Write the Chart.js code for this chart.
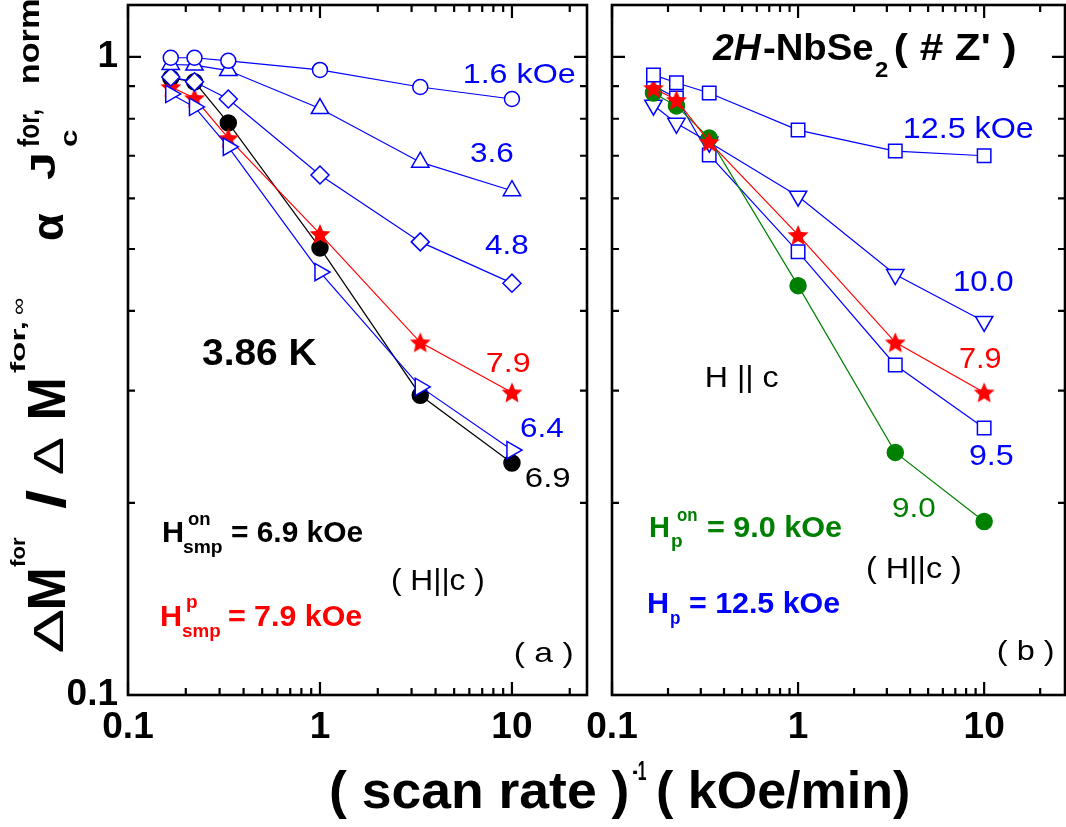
<!DOCTYPE html>
<html><head><meta charset="utf-8">
<script src="https://cdn.jsdelivr.net/npm/chart.js@4/dist/chart.umd.min.js"></script>
<style>
html,body{margin:0;padding:0;background:#fff;}
#wrap{position:relative;width:1066px;height:827px;overflow:hidden;background:#fff;}
#wrap canvas{position:absolute;left:0;top:0;}
</style></head><body>
<div id="wrap"><canvas id="cA" width="1066" height="827"></canvas><canvas id="cB" width="1066" height="827"></canvas></div>
<script>
// ---------- data ----------
const scanRates = [0.167, 0.222, 0.333, 1, 3.33, 10];   // (scan rate)^-1, kOe/min

// panel (a): 3.86 K
const a16 = [0.997, 0.997, 0.986, 0.954, 0.897, 0.859];   // 1.6 kOe
const a36 = [0.973, 0.971, 0.952, 0.830, 0.684, 0.617];   // 3.6
const a48 = [0.930, 0.914, 0.859, 0.653, 0.513, 0.442];   // 4.8
const a64 = [0.875, 0.835, 0.723, 0.460, 0.304, 0.242];   // 6.4
const a79 = [0.897, 0.862, 0.746, 0.528, 0.357, 0.298];   // 7.9
const a69 = [0.927, 0.914, 0.788, 0.502, 0.295, 0.231];   // 6.9

// panel (b): 2H-NbSe2 (#Z')
const b125 = [0.937, 0.911, 0.878, 0.768, 0.712, 0.700];  // 12.5 kOe
const b79  = [0.894, 0.856, 0.736, 0.526, 0.357, 0.298];  // 7.9
const b90  = [0.878, 0.838, 0.746, 0.438, 0.240, 0.187];  // 9.0
const b100 = [0.840, 0.787, 0.735, 0.605, 0.456, 0.385];  // 10.0
const b95  = [0.901, 0.862, 0.702, 0.495, 0.329, 0.262];  // 9.5

const xTickValues = [0.1,0.2,0.3,0.4,0.5,0.6,0.7,0.8,0.9,1,2,3,4,5,6,7,8,9,10,20];
const yTickValues = [0.1,0.2,0.3,0.4,0.5,0.6,0.7,0.8,0.9,1];
const majorTickValues = [0.1, 1, 10];
const majorTickLabels = ['0.1', '1', '10'];

// ---------- helpers ----------
const F = "'Liberation Sans', Arial, Helvetica, sans-serif";
const BLUE = '#0000ff', RED = '#ff0000', GREEN = '#008000', BLACK = '#000000', WHITE = '#ffffff';

function majorIndex(v){
  for (let i = 0; i < majorTickValues.length; i++)
    if (Math.abs(Math.log10(v) - Math.log10(majorTickValues[i])) < 1e-6) return i;
  return -1;
}
function labelFor(v){ const i = majorIndex(v); return i >= 0 ? majorTickLabels[i] : ''; }

function makeStar(color, R){
  const c = document.createElement('canvas');
  const s = Math.ceil(2 * R + 2);
  c.width = s; c.height = s;
  const g = c.getContext('2d');
  g.fillStyle = color;
  g.beginPath();
  for (let i = 0; i < 10; i++){
    const r = (i % 2) ? R * 0.46 : R;
    const a = -Math.PI / 2 + i * Math.PI / 5;
    g.lineTo(s / 2 + r * Math.cos(a), s / 2 + 1 + r * Math.sin(a));
  }
  g.closePath(); g.fill();
  return c;
}
const starImg = makeStar(RED, 11);

function series(label, ys, color, style, radius, fill, rotation){
  return {
    label,
    data: scanRates.map((x, i) => ({x, y: ys[i]})),
    borderColor: color, backgroundColor: fill, borderWidth: 1.2,
    pointStyle: style, pointRadius: radius, pointBorderColor: color,
    pointBackgroundColor: fill, pointBorderWidth: 1.5,
    pointRotation: rotation || 0, tension: 0, fill: false
  };
}

function fitText(ctx, s, x0, x1, base, font, color, sy){
  ctx.save();
  ctx.font = font; ctx.fillStyle = color;
  ctx.textAlign = 'left'; ctx.textBaseline = 'alphabetic';
  const m = ctx.measureText(s);
  const inkL = m.actualBoundingBoxLeft;
  const inkW = m.actualBoundingBoxLeft + m.actualBoundingBoxRight;
  const sx = (x1 - x0) / inkW;
  ctx.translate(x0, base);
  ctx.scale(sx, sy || 1);
  ctx.fillText(s, inkL, 0);
  ctx.restore();
}

const frameTicks = {
  id: 'frameTicks',
  afterDatasetsDraw(chart){
    const {ctx, chartArea: {left, right, top, bottom}, scales: {x, y}} = chart;
    ctx.save();
    ctx.strokeStyle = BLACK; ctx.lineWidth = 2.2; ctx.lineCap = 'butt';
    ctx.beginPath();
    x.ticks.forEach(t => {
      const px = x.getPixelForValue(t.value);
      const L = majorIndex(t.value) >= 0 ? 13 : 7;
      ctx.moveTo(px, bottom); ctx.lineTo(px, bottom - L);
      ctx.moveTo(px, top); ctx.lineTo(px, top + L);
    });
    y.ticks.forEach(t => {
      const py = y.getPixelForValue(t.value);
      const L = majorIndex(t.value) >= 0 ? 13 : 7;
      ctx.moveTo(left, py); ctx.lineTo(left + L, py);
      ctx.moveTo(right, py); ctx.lineTo(right - L, py);
    });
    ctx.stroke();
    ctx.lineWidth = 2.6;
    ctx.strokeRect(left, top, right - left, bottom - top);
    ctx.restore();
  }
};

function textPlugin(id, items){
  return { id, afterDraw(chart){ const ctx = chart.ctx; items.forEach(it => fitText(ctx, ...it)); } };
}

const R = (s) => s + 'px ' + F;
const B = (s) => 'bold ' + s + 'px ' + F;
const BI = (s) => 'italic bold ' + s + 'px ' + F;

const textsA = [
  ['1.6 kOe', 465, 575, 83, R(28), BLUE],
  ['3.6', 471, 513, 162, R(28), BLUE],
  ['4.8', 485, 528, 254, R(28), BLUE],
  ['7.9', 487, 530, 372, R(28), RED],
  ['6.4', 521, 563, 437, R(28), BLUE],
  ['6.9', 526, 570, 487, R(28), BLACK],
  ['3.86 K', 202, 317, 365, B(37), BLACK],
  ['H', 163, 182, 542, B(29), BLACK],
  ['on', 188, 210, 525, B(19), BLACK],
  ['smp', 183, 222, 553, B(19), BLACK],
  ['= 6.9 kOe', 232, 363, 542, B(29), BLACK],
  ['H', 161, 180, 626, B(29), RED],
  ['p', 187, 197, 608, B(19), RED],
  ['smp', 182, 220, 637, B(19), RED],
  ['= 7.9 kOe', 229, 362, 626, B(29), RED],
  ['( H||c )', 392, 483, 590, R(29), BLACK],
  ['( a )', 515, 572, 662, R(28), BLACK]
];
const textsB = [
  ['2H', 712, 762, 60, BI(37), BLACK],
  ['-NbSe', 764, 873, 60, B(37), BLACK],
  ['2', 875, 888, 77, B(22), BLACK],
  ["( # Z' )", 895, 1015, 60, B(37), BLACK],
  ['12.5 kOe', 905, 1033, 138, R(30), BLUE],
  ['10.0', 955, 1013, 291, R(30), BLUE],
  ['7.9', 960, 1001, 368, R(30), RED],
  ['9.5', 970, 1013, 465, R(30), BLUE],
  ['H || c', 707, 778, 387, R(29), BLACK],
  ['9.0', 893, 935, 517, R(28), GREEN],
  ['H', 650, 668, 537, B(29), GREEN],
  ['on', 677, 697, 521, B(19), GREEN],
  ['p', 672, 682, 547, B(19), GREEN],
  ['= 9.0 kOe', 708, 842, 537, B(29), GREEN],
  ['( H||c )', 867, 960, 578, R(29), BLACK],
  ['H', 648, 667, 613, B(29), BLUE],
  ['p', 671, 680, 624, B(19), BLUE],
  ['= 12.5 kOe', 690, 840, 613, B(29), BLUE],
  ['( b )', 998, 1053, 660, R(28), BLACK]
];

// axis titles (drawn on panel a canvas, page coordinates)
const axisTitles = {
  id: 'axisTitles',
  afterDraw(chart){
    const ctx = chart.ctx;
    fitText(ctx, '( scan rate )', 331, 627, 808, B(52), BLACK);
    fitText(ctx, '-1', 633, 646, 780, B(28), BLACK);
    fitText(ctx, '( kOe/min)', 658, 908, 808, B(52), BLACK);
    ctx.save();
    ctx.translate(0, 652);
    ctx.rotate(-Math.PI / 2);
    const parts = [
      ['\u0394', 0, 42, 63, R(43), 1],
      ['M', 45, 82, 65, B(45), 1.18],
      ['for', 85, 115, 25, B(20), 1],
      ['/', 143, 163, 65, B(45), 1.18],
      ['\u0394', 178, 214, 63, R(43), 1],
      ['M', 235, 272, 65, B(45), 1.18],
      ['for,', 279, 330, 25, B(20), 1],
      ['\u221E', 337, 354, 25, R(20), 1],
      ['\u03B1', 412, 439, 63, B(45), 1],
      ['J', 472, 497, 55, B(34), 1.05],
      ['c', 505, 522, 77, B(24), 1],
      ['for,', 505, 542, 39, B(26), 1.1],
      ['norm', 569, 652, 39, B(26), 1.1]
    ];
    parts.forEach(p => fitText(ctx, p[0], p[1], p[2], p[3], p[4], BLACK, p[5]));
    ctx.restore();
  }
};

function zeroPad(s){ s.paddingTop = 0; s.paddingBottom = 0; s.paddingLeft = 0; s.paddingRight = 0; }

function makePanel(canvasId, datasets, xMax, pad, yWidth, showYLabels, extraPlugins){
  return new Chart(document.getElementById(canvasId), {
    type: 'line',
    data: { datasets },
    options: {
      responsive: false, animation: false, events: [],
      layout: { padding: pad, autoPadding: false },
      plugins: { legend: {display: false}, tooltip: {enabled: false}, title: {display: false} },
      scales: {
        x: {
          type: 'logarithmic', min: 0.1, max: xMax, bounds: 'data',
          grid: {display: false, drawTicks: false}, border: {display: false},
          afterBuildTicks: s => { s.ticks = xTickValues.map(v => ({value: v})); },
          afterFit: s => { s.height = 132; zeroPad(s); },
          ticks: { autoSkip: false, maxRotation: 0, minRotation: 0, padding: 11, color: BLACK,
                   font: {family: F, size: 37, weight: 'bold'}, callback: v => labelFor(v) }
        },
        y: {
          type: 'logarithmic', min: 0.1, max: 1.206, bounds: 'data',
          grid: {display: false, drawTicks: false}, border: {display: false},
          afterBuildTicks: s => { s.ticks = yTickValues.map(v => ({value: v})); },
          afterFit: s => { s.width = yWidth; zeroPad(s); },
          ticks: { display: showYLabels, autoSkip: false, padding: 10, color: BLACK,
                   font: {family: F, size: 37, weight: 'bold'}, callback: v => labelFor(v) }
        }
      }
    },
    plugins: [frameTicks].concat(extraPlugins)
  });
}

// dataset index 0 is drawn on top
const dsA = [
  series('1.6 kOe', a16, BLUE, 'circle', 7.5, WHITE),
  series('3.6 kOe', a36, BLUE, 'triangle', 10, WHITE),
  series('4.8 kOe', a48, BLUE, 'rectRot', 9, WHITE),
  series('6.4 kOe', a64, BLUE, 'triangle', 10, WHITE, 90),
  series('7.9 kOe', a79, RED, starImg, 10, RED),
  series('6.9 kOe', a69, BLACK, 'circle', 8, BLACK)
];
const dsB = [
  series('12.5 kOe', b125, BLUE, 'rect', 9.5, WHITE),
  series('7.9 kOe', b79, RED, starImg, 10, RED),
  series('9.0 kOe', b90, GREEN, 'circle', 8, GREEN),
  series('10.0 kOe', b100, BLUE, 'triangle', 10, WHITE, 180),
  series('9.5 kOe', b95, BLUE, 'rect', 9.5, WHITE)
];

makePanel('cA', dsA, 24.6, {left: 0, top: 5, right: 479, bottom: 0}, 128, true,
          [textPlugin('textsA', textsA), axisTitles]);
makePanel('cB', dsB, 27.2, {left: 0, top: 5, right: 1, bottom: 0}, 612, false,
          [textPlugin('textsB', textsB)]);
</script>
</body></html>
